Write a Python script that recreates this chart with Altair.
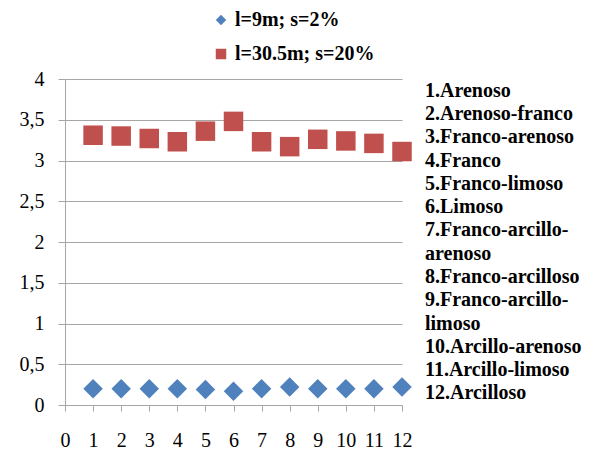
import altair as alt
import pandas as pd

# Soil texture classes 1..12 and the two slope configurations
classes = list(range(1, 13))
short_steep = [0.20, 0.20, 0.20, 0.20, 0.19, 0.17, 0.20, 0.22, 0.20, 0.20, 0.20, 0.22]
long_steep = [3.31, 3.30, 3.27, 3.23, 3.36, 3.48, 3.23, 3.17, 3.26, 3.24, 3.21, 3.11]
series_names = ["l=9m; s=2%", "l=30.5m; s=20%"]
series_colors = ["#4F81BD", "#C0504D"]
series_shapes = ["diamond", "square"]

soil_lines = [
    "1.Arenoso", "2.Arenoso-franco", "3.Franco-arenoso", "4.Franco",
    "5.Franco-limoso", "6.Limoso", "7.Franco-arcillo-", "arenoso",
    "8.Franco-arcilloso", "9.Franco-arcillo-", "limoso",
    "10.Arcillo-arenoso", "11.Arcillo-limoso", "12.Arcilloso",
]

points = pd.DataFrame({
    "x": classes * 2,
    "y": short_steep + long_steep,
    "serie": [series_names[0]] * 12 + [series_names[1]] * 12,
})
notes = pd.DataFrame({"line": list(range(len(soil_lines))), "txt": soil_lines})

FONT = "Liberation Serif"

scatter = alt.Chart(points).mark_point(filled=True, opacity=1, size=380).encode(
    x=alt.X("x:Q", scale=alt.Scale(domain=[0, 12], nice=False),
            axis=alt.Axis(values=list(range(0, 13)), title=None, grid=False,
                          domainColor="#A6A6A6", tickColor="#A6A6A6",
                          tickSize=6, labelPadding=19, labelFontSize=20,
                          labelFont=FONT, labelColor="black", labelFlush=False)),
    y=alt.Y("y:Q", scale=alt.Scale(domain=[0, 4], nice=False),
            axis=alt.Axis(values=[0, 0.5, 1, 1.5, 2, 2.5, 3, 3.5, 4], title=None,
                          labelExpr="replace(toString(datum.value), '.', ',')",
                          gridColor="#A6A6A6", domainColor="#A6A6A6",
                          tickColor="#A6A6A6", tickSize=7, labelPadding=14,
                          labelFontSize=20, labelFont=FONT, labelColor="black")),
    color=alt.Color("serie:N", scale=alt.Scale(domain=series_names, range=series_colors),
                    legend=alt.Legend(title=None, orient="none", legendX=146, legendY=-69,
                                      labelFont=FONT, labelFontSize=20, labelFontWeight="bold",
                                      labelColor="black", symbolSize=110, rowPadding=14,
                                      symbolOpacity=1)),
    shape=alt.Shape("serie:N", scale=alt.Scale(domain=series_names, range=series_shapes),
                    legend=alt.Legend(title=None, orient="none", legendX=146, legendY=-69)),
)

labels = alt.Chart(notes).mark_text(
    align="left", baseline="middle", font=FONT, fontSize=20, fontWeight="bold", color="black"
).encode(
    x=alt.value(360),
    y=alt.Y("line:O", axis=None, scale=alt.Scale(paddingOuter=0.17)),
    text="txt:N",
)

chart = alt.layer(scatter, labels).resolve_scale(y="independent").properties(
    width=337, height=326,
    autosize=alt.AutoSizeParams(type="none"),
    padding={"left": 65, "top": 79, "right": 198, "bottom": 45},
).configure_view(stroke=None)

chart.save("out.html", embed_options={"renderer": "svg", "actions": False})
